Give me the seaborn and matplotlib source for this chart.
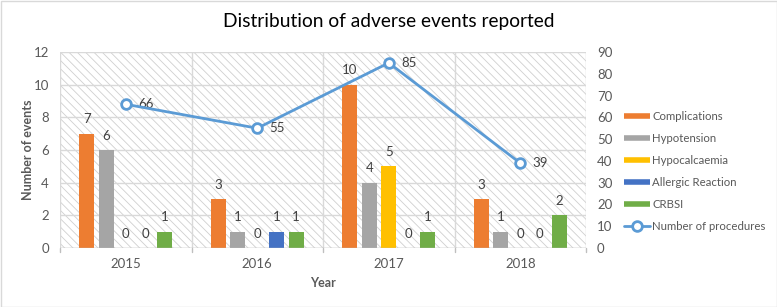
import matplotlib
matplotlib.use("Agg")
import matplotlib.pyplot as plt
from matplotlib.patches import Rectangle
from matplotlib.lines import Line2D
import seaborn as sns
import pandas as pd
import numpy as np

years = ["2015", "2016", "2017", "2018"]
series = ["Complications", "Hypotension", "Hypocalcaemia", "Allergic Reaction", "CRBSI"]
complications = [7, 3, 10, 3]
hypotension = [6, 1, 4, 1]
hypocalcaemia = [0, 0, 5, 0]
allergic = [0, 1, 0, 0]
crbsi = [1, 1, 1, 2]
procedures = [66, 55, 85, 39]
colors = ["#ED7D31", "#A5A5A5", "#FFC000", "#4472C4", "#70AD47"]
line_color = "#5B9BD5"

sns.set_theme(style="white")
plt.rcParams["font.family"] = ["Lato", "DejaVu Sans"]
plt.rcParams["hatch.linewidth"] = 0.6

rows = []
for name, vals in zip(series, [complications, hypotension, hypocalcaemia, allergic, crbsi]):
    for y, v in zip(years, vals):
        rows.append({"Year": y, "Series": name, "Value": v})
df = pd.DataFrame(rows)

fig = plt.figure(figsize=(7.77, 3.07), dpi=100)
ax = fig.add_axes([60/777, 1-248/307, 526/777, 196/307])
ax.set_facecolor("white")
ax.add_patch(Rectangle((0, 0), 1, 1, transform=ax.transAxes, facecolor="white",
                       edgecolor="#D0D0D0", lw=0, hatch="\\\\\\\\", zorder=0))

sns.barplot(data=df, x="Year", y="Value", hue="Series", order=years, hue_order=series,
            palette=colors, width=0.74, gap=0.22, ax=ax, legend=False, zorder=3,
            saturation=1, linewidth=0)

for c in ax.containers:
    ax.bar_label(c, padding=6, fontsize=9.5, color="#404040")

ax.set_ylim(0, 12)
ax.set_yticks(range(0, 13, 2))
ax.set_xlim(-0.5, 3.5)
for y in range(0, 13, 2):
    ax.axhline(y, color="#D9D9D9", lw=1, zorder=1)
for x in [-0.5, 0.5, 1.5, 2.5, 3.5]:
    ax.axvline(x, color="#D9D9D9", lw=1, zorder=1)
for s in ax.spines.values():
    s.set_visible(False)
ax.axhline(0, color="#BFBFBF", lw=1, zorder=4)
ax.tick_params(axis="both", colors="#595959", labelsize=9.5, length=0)
ax.tick_params(axis="y", pad=8)
ax.tick_params(axis="x", pad=7)
ax.set_xlabel("Year", fontsize=9, fontweight="bold", color="#595959", labelpad=5)
ax.set_ylabel("Number of events", fontsize=9, fontweight="bold", color="#595959", labelpad=0)
for x in [-0.5, 0.5, 1.5, 2.5, 3.5]:
    ax.plot([x, x], [0, -0.25], color="#BFBFBF", lw=1, clip_on=False, zorder=4)

ax2 = ax.twinx()
sns.lineplot(x=np.arange(len(years)), y=procedures, ax=ax2, color=line_color, lw=2,
             marker="o", markersize=7, markerfacecolor="white", markeredgecolor=line_color,
             markeredgewidth=2, zorder=5)
ax2.set_ylim(0, 90)
ax2.set_yticks(range(0, 91, 10))
ax2.tick_params(axis="y", colors="#595959", labelsize=9.5, length=0, pad=8)
for s in ax2.spines.values():
    s.set_visible(False)
ax2.grid(False)
for i, v in enumerate(procedures):
    ax2.annotate(str(v), (i, v), xytext=(9, 0), textcoords="offset points",
                 va="center", ha="left", fontsize=9.5, color="#404040")

handles = [Line2D([0], [0], color=c, lw=4, solid_capstyle="butt") for c in colors]
handles.append(Line2D([0], [0], color=line_color, lw=2, marker="o", markersize=7,
                      markerfacecolor="white", markeredgecolor=line_color, markeredgewidth=2))
labels = series + ["Number of procedures"]
fig.legend(handles, labels, loc="center left", bbox_to_anchor=(624/777, 1-171.5/307),
           bbox_transform=fig.transFigure,
           frameon=False, fontsize=8.2, labelcolor="#595959", handlelength=2.3,
           handletextpad=0.2, labelspacing=0.95, borderaxespad=0, borderpad=0)

fig.text(0.5, 1-21/307, "Distribution of adverse events reported", ha="center", va="center",
         fontsize=13.8, color="#000000")
fig.add_artist(Rectangle((0.5/777, 0.5/307), 1-1/777, 1-1/307, transform=fig.transFigure,
                         facecolor="none", edgecolor="#D9D9D9", lw=1))

fig.savefig("out.png", dpi=100)
